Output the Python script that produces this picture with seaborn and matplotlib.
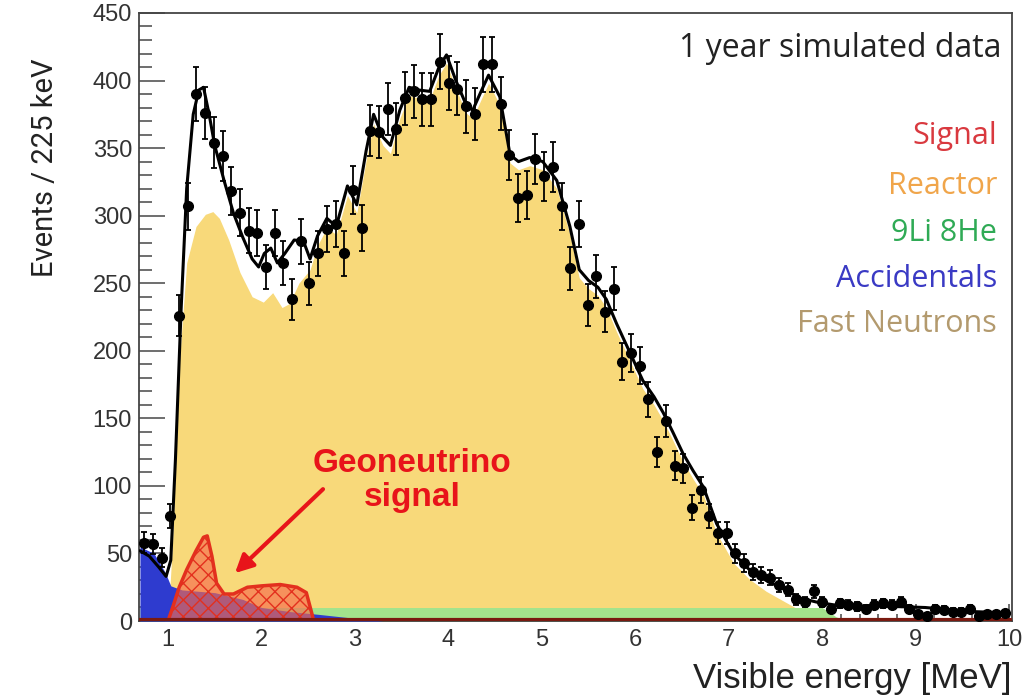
import numpy as np
import pandas as pd
import seaborn as sns
import matplotlib.pyplot as plt
from matplotlib.ticker import MultipleLocator

# data points (simulated events per bin), bin centers every 0.093 MeV from 0.7465
data_e0 = 0.7465
data_step = 0.093
data_counts = [58, 57, 47, 78, 226, 307, 390, 376, 354, 344,
               318, 302, 289, 287, 262, 287, 265, 238, 281, 250,
               272, 290, 294, 272, 319, 291, 363, 362, 379, 364,
               387, 392, 386, 386, 414, 398, 394, 381, 375, 412,
               412, 383, 345, 313, 315, 342, 329, 336, 307, 261,
               294, 234, 255, 229, 246, 192, 198, 189, 164, 125,
               148, 115, 113, 84, 97, 78, 65, 65, 50, 43,
               36, 34, 32, 27, 23, 16, 14, 22, 14, 9,
               13, 12, 11, 9, 12, 13, 12, 14, 9, 5,
               4, 9, 8, 7, 7, 9, 4, 5, 5, 6]

# total MC prediction (black line)
total_e = [0.70, 0.80, 0.90, 0.98, 1.03, 1.08, 1.14, 1.20, 1.27, 1.33, 1.38, 1.44, 1.50,
           1.60, 1.70, 1.80, 1.90, 1.97, 2.03, 2.10, 2.17, 2.25, 2.35, 2.45, 2.52, 2.60,
           2.70, 2.80, 2.92, 3.02, 3.12, 3.20, 3.30, 3.38, 3.48, 3.58, 3.68, 3.80, 3.90,
           3.98, 4.08, 4.19, 4.26, 4.35, 4.43, 4.55, 4.66, 4.75, 4.87, 5.01, 5.16, 5.30,
           5.40, 5.50, 5.60, 5.69, 5.80, 5.90, 6.00, 6.08, 6.20, 6.30, 6.40, 6.51, 6.62,
           6.73, 6.87, 7.05, 7.22, 7.40, 7.58, 7.76, 7.94, 8.12, 8.40, 8.65, 9.10, 9.60, 10.0]
total_n = [52, 48, 40, 33, 45, 120, 230, 320, 375, 393, 395, 375, 352,
           326, 302, 284, 268, 262, 272, 276, 265, 272, 282, 281, 268, 285,
           298, 292, 322, 308, 348, 375, 358, 352, 378, 395, 393, 392, 410,
           419, 400, 382, 378, 392, 404, 388, 345, 340, 343, 340, 326, 292,
           260, 252, 247, 238, 220, 205, 190, 178, 166, 154, 140, 124, 111,
           99, 72, 50, 38, 30, 24, 17, 14, 12, 11, 11, 10, 7, 6]

# reactor antineutrinos (yellow)
reactor_e = [1.00, 1.05, 1.12, 1.20, 1.30, 1.40, 1.48, 1.55, 1.65, 1.77, 1.90, 2.02,
             2.12, 2.22, 2.30, 2.40, 2.52, 2.60, 2.70, 2.80, 2.92, 3.02, 3.12, 3.20,
             3.30, 3.38, 3.48, 3.58, 3.68, 3.80, 3.90, 3.98, 4.08, 4.19, 4.26, 4.35,
             4.43, 4.55, 4.66, 4.75, 4.87, 5.01, 5.16, 5.30, 5.40, 5.50, 5.60, 5.69,
             5.80, 5.90, 6.00, 6.08, 6.20, 6.30, 6.40, 6.51, 6.62, 6.73, 6.87, 7.05,
             7.22, 7.40, 7.58, 7.76, 7.94, 8.12]
reactor_n = [0, 60, 190, 265, 292, 301, 303, 298, 282, 258, 240, 236,
             243, 232, 235, 250, 260, 278, 291, 286, 315, 302, 341, 368,
             352, 346, 372, 389, 387, 386, 404, 413, 394, 376, 372, 386,
             398, 382, 339, 334, 337, 334, 320, 286, 254, 246, 241, 232,
             214, 199, 184, 172, 160, 148, 134, 118, 105, 93, 65, 43,
             31, 22, 15, 8, 3, 0]

# 9Li / 8He (green)
li_e = [0.70, 2.00, 4.00, 6.00, 8.00, 8.15, 8.30]
li_n = [10, 10, 10, 10, 10, 3, 0]

# accidentals (blue)
acc_e = [0.70, 0.85, 0.97, 1.03, 1.15, 1.50, 1.80, 2.00, 2.30, 2.60, 3.00, 3.30]
acc_n = [55, 50, 36, 26, 23, 21, 16, 10, 7, 5, 2, 0]

# geoneutrino signal (red hatched)
sig_e = [1.00, 1.05, 1.12, 1.20, 1.30, 1.38, 1.42, 1.47, 1.52, 1.60, 1.70, 1.85,
         2.00, 2.20, 2.38, 2.48, 2.53, 2.56]
sig_n = [0, 10, 25, 38, 52, 62, 63, 48, 28, 20, 20, 25, 26, 27, 25, 21, 8, 0]

legend_labels = ['Signal', 'Reactor', '9Li 8He', 'Accidentals', 'Fast Neutrons']
legend_colors = ['#d9393f', '#f0a54a', '#2faa55', '#3a3ac4', '#b39a6e']

sns.set_theme(style='ticks')
plt.rcParams['font.family'] = ['Liberation Sans', 'DejaVu Sans']

fig = plt.figure(figsize=(10.32, 6.98), dpi=100)
ax = fig.add_axes([0.1347, 0.1103, 0.8459, 0.8711])

# components, each drawn from zero
ax.fill_between(reactor_e, reactor_n, color='#f8d97a', lw=0, zorder=1)
ax.fill_between(li_e, li_n, color='#a3e38c', lw=0, zorder=2)
ax.fill_between(acc_e, acc_n, color='#2e3bcf', lw=0, zorder=3)
ax.fill_between(sig_e, sig_n, facecolor=(0.96, 0.42, 0.30, 0.65),
                edgecolor='#e3301e', hatch='xx', lw=0, zorder=4)
ax.plot(sig_e, sig_n, color='#e3301e', lw=2.5, zorder=5)
ax.axhline(0.8, color='#7a1a10', lw=3, zorder=5)

mc = pd.DataFrame({'E': total_e, 'N': total_n})
sns.lineplot(data=mc, x='E', y='N', color='black', lw=2.2, ax=ax, zorder=6)

data_e = data_e0 + data_step * np.arange(len(data_counts))
data_n = np.array(data_counts)
ax.errorbar(data_e, data_n, yerr=np.sqrt(data_n), fmt='o', color='black',
            ms=7, elinewidth=1.3, capsize=2.5, capthick=1.3, zorder=7)

ax.set_xlim(0.69, 10.03)
ax.set_ylim(0, 450)
ax.xaxis.set_major_locator(MultipleLocator(1))
ax.xaxis.set_minor_locator(MultipleLocator(0.2))
ax.yaxis.set_major_locator(MultipleLocator(50))
ax.yaxis.set_minor_locator(MultipleLocator(10))
ax.tick_params(axis='both', which='both', direction='in', colors='#555555',
               labelcolor='#333333', labelsize=17)
ax.tick_params(axis='y', which='major', length=19, width=1.2, pad=5)
ax.tick_params(axis='y', which='minor', length=9, width=1.2)
ax.tick_params(axis='x', which='major', length=12, width=1.2, pad=6)
ax.tick_params(axis='x', which='minor', length=5, width=1.2)
for s in ax.spines.values():
    s.set_color('#444444')
    s.set_linewidth(1.3)

ax.set_xlabel('Visible energy [MeV]', loc='right', fontsize=25,
              color='#222222', labelpad=8)
ax.set_ylabel('')
fig.text(45 / 1032, 1 - 168 / 698, 'Events / 225 keV', rotation=90,
         ha='center', va='center', fontsize=21, color='#222222',
         family=['Liberation Sans Narrow', 'Roboto', 'DejaVu Sans'])

ax.text(0.988, 0.942, '1 year simulated data', transform=ax.transAxes,
        ha='right', va='center', fontsize=23, color='#222222',
        family=['Open Sans', 'DejaVu Sans'])
leg_y = [0.798, 0.716, 0.638, 0.563, 0.488]
for lab, col, yy in zip(legend_labels, legend_colors, leg_y):
    ax.text(0.983, yy, lab, transform=ax.transAxes, ha='right', va='center',
            fontsize=22, color=col, family=['Open Sans', 'DejaVu Sans'])

ax.annotate('', xy=(1.695, 34), xytext=(2.68, 99),
            arrowprops=dict(arrowstyle='-|>,head_length=0.9,head_width=0.45',
                            color='#e8141a', lw=3), zorder=8)
ax.text(3.61, 104, 'Geoneutrino\nsignal', ha='center', va='center',
        fontsize=24, fontweight='bold', color='#e8141a', linespacing=1.1, zorder=8)

plt.savefig('out.png', dpi=100)
